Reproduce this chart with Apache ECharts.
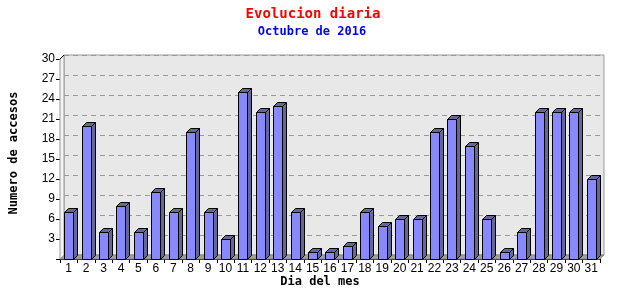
<!DOCTYPE html>
<html><head><meta charset="utf-8">
<script src="https://cdn.jsdelivr.net/npm/echarts@6/dist/echarts.min.js"></script>
<style>html,body{margin:0;padding:0;background:#fff}#c{width:640px;height:300px}</style>
</head><body><div id="c"></div>
<script>
var days = ['1','2','3','4','5','6','7','8','9','10','11','12','13','14','15','16','17','18','19','20','21','22','23','24','25','26','27','28','29','30','31'];
var accesses = [7,20,4,8,4,10,7,19,7,3,25,22,23,7,1,1,2,7,5,6,6,19,21,17,6,1,4,22,22,22,12];
var yTicks = [0,3,6,9,12,15,18,21,24,27,30];
var titleText = 'Evolucion diaria';
var subtitleText = 'Octubre de 2016';
var xName = 'Dia del mes';
var yName = 'Numero de accesos';

var D = 4; // depth offset
var chart = echarts.init(document.getElementById('c'), null, {renderer:'canvas'});
var mono = '"DejaVu Sans Mono", monospace';

function wallsRender(params, api) {
  var cs = params.coordSys;
  var x0 = cs.x, x1 = cs.x + cs.width, yb = cs.y + cs.height, yt = cs.y;
  return {type:'group', children:[
    {type:'polygon', shape:{points:[[x0,yb],[x0+D,yb-D],[x1+D,yb-D],[x1,yb]]},
     style:{fill:'#a0a0a0', stroke:'#888', lineWidth:1}},
    {type:'polygon', shape:{points:[[x0,yb],[x0,yt],[x0+D,yt-D],[x0+D,yb-D]]},
     style:{fill:'#f4f4f4', stroke:'#999', lineWidth:1}},
    {type:'line', shape:{x1:x0, y1:yt, x2:x0+D, y2:yt-D}, style:{stroke:'#000', lineWidth:1}}
  ]};
}

function barRender(params, api) {
  var idx = api.value(0);
  var val = api.value(1);
  var top = api.coord([idx, val]);
  var base = api.coord([idx, 0]);
  var band = api.size([1, 0])[0];
  var w = Math.round(band * 0.52);
  var xa = Math.round(top[0] - w / 2) + 0.5, xb = xa + w;
  var yt = Math.round(top[1]) + 0.5, yb = Math.round(base[1]) + 0.5;
  var sty = {stroke:'#000', lineWidth:1};
  return {type:'group', children:[
    {type:'polygon', shape:{points:[[xb,yt],[xb+D,yt-D],[xb+D,yb-D],[xb,yb]]},
     style:Object.assign({fill:'#666699'}, sty)},
    {type:'polygon', shape:{points:[[xa,yt],[xa+D,yt-D],[xb+D,yt-D],[xb,yt]]},
     style:Object.assign({fill:'#666699'}, sty)},
    {type:'rect', shape:{x:xa, y:yt, width:w, height:yb-yt},
     style:Object.assign({fill:'#8888ff'}, sty)}
  ]};
}

var barData = accesses.map(function(v, i){ return [i, v]; });

chart.setOption({
  animation:false,
  graphic:[
    {type:'text', left:null, x:313, y:14, style:{text:titleText, fill:'#ff0000', font:'bold 14px '+mono, textAlign:'center', textVerticalAlign:'middle'}},
    {type:'text', x:312, y:32, style:{text:subtitleText, fill:'#0000ff', font:'bold 12px '+mono, textAlign:'center', textVerticalAlign:'middle'}},
    {type:'text', x:320, y:282, style:{text:xName, fill:'#000', font:'bold 12px '+mono, textAlign:'center', textVerticalAlign:'middle'}},
    {type:'text', x:14, y:153, rotation:Math.PI/2, style:{text:yName, fill:'#000', font:'bold 12px '+mono, textAlign:'center', textVerticalAlign:'middle'}}
  ],
  grid:[
    {left:64, right:36, top:55, bottom:45, show:true, backgroundColor:'#e8e8e8', borderColor:'#999', borderWidth:1},
    {left:60, right:40, top:59, bottom:41}
  ],
  xAxis:[
    {gridIndex:0, type:'category', data:days, show:false},
    {gridIndex:1, type:'category', data:days,
     axisLine:{lineStyle:{color:'#000', width:1}},
     axisTick:{show:true, length:4, lineStyle:{color:'#000'}},
     axisLabel:{color:'#000', fontFamily:'"Liberation Sans", sans-serif', fontSize:12, margin:4, interval:0}}
  ],
  yAxis:[
    {gridIndex:0, type:'value', min:yTicks[0], max:yTicks[yTicks.length-1], interval:3,
     axisLine:{show:false}, axisTick:{show:false}, axisLabel:{show:false},
     splitLine:{show:true, lineStyle:{color:'#999', type:[5,4], width:1}}},
    {gridIndex:1, type:'value', min:yTicks[0], max:yTicks[yTicks.length-1], interval:3,
     axisLine:{show:true, lineStyle:{color:'#000', width:1}},
     axisTick:{show:true, length:4, lineStyle:{color:'#000'}},
     axisLabel:{color:'#000', fontFamily:'"Liberation Sans", sans-serif', fontSize:12, margin:5,
       formatter:function(v){ return v === 0 ? '' : String(v); }},
     splitLine:{show:false}}
  ],
  series:[
    {type:'custom', xAxisIndex:1, yAxisIndex:1, data:[[0,0]], renderItem:wallsRender, z:1, silent:true},
    {type:'custom', xAxisIndex:1, yAxisIndex:1, data:barData, renderItem:barRender, z:3,
     encode:{x:0, y:1}}
  ]
});
</script>
</body></html>
